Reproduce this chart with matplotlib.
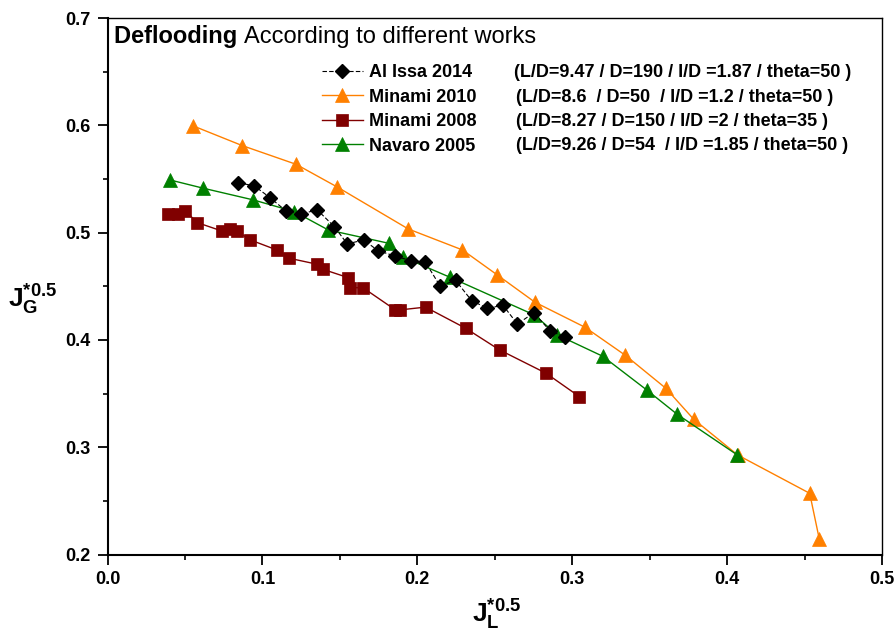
import numpy as np
import matplotlib
matplotlib.use("Agg")
import matplotlib.pyplot as plt

plt.rcParams['font.family'] = ['Liberation Sans', 'DejaVu Sans']
plt.rcParams['mathtext.fontset'] = 'custom'
plt.rcParams['mathtext.bf'] = 'Liberation Sans:bold'
plt.rcParams['mathtext.rm'] = 'Liberation Sans'

# data
alissa_x = [0.0844, 0.0948, 0.1049, 0.1150, 0.1249, 0.1354, 0.1464, 0.1548, 0.1654, 0.1746, 0.1854,
            0.1957, 0.2050, 0.2147, 0.2247, 0.2351, 0.2453, 0.2553, 0.2646, 0.2753, 0.2855, 0.2955]
alissa_y = [0.5466, 0.5435, 0.5326, 0.5205, 0.5174, 0.5212, 0.5056, 0.4895, 0.4932, 0.4832, 0.4783,
            0.4739, 0.4730, 0.4503, 0.4555, 0.4366, 0.4295, 0.4323, 0.4149, 0.4254, 0.4087, 0.4025]

min2010_x = [0.0554, 0.0870, 0.1217, 0.1482, 0.1942, 0.2291, 0.2516, 0.2760, 0.3083, 0.3343,
             0.3604, 0.3784, 0.4068, 0.4533, 0.4595]
min2010_y = [0.5994, 0.5811, 0.5637, 0.5426, 0.5034, 0.4839, 0.4606, 0.4351, 0.4118, 0.3857,
             0.3550, 0.3261, 0.2928, 0.2571, 0.2145]

min2008_x = [0.0393, 0.0457, 0.0500, 0.0580, 0.0737, 0.0791, 0.0836, 0.0922, 0.1092, 0.1174, 0.1352,
             0.1389, 0.1553, 0.1564, 0.1649, 0.1858, 0.1888, 0.2053, 0.2312, 0.2531, 0.2831, 0.3046]
min2008_y = [0.5174, 0.5174, 0.5205, 0.5093, 0.5016, 0.5034, 0.5013, 0.4932, 0.4839, 0.4761, 0.4706,
             0.4659, 0.4581, 0.4487, 0.4487, 0.4280, 0.4280, 0.4306, 0.4109, 0.3907, 0.3690, 0.3472]

navaro_x = [0.0403, 0.0618, 0.0941, 0.1206, 0.1425, 0.1815, 0.1910, 0.2211, 0.2755, 0.2904,
            0.3197, 0.3481, 0.3677, 0.4066]
navaro_y = [0.5491, 0.5414, 0.5305, 0.5196, 0.5025, 0.4901, 0.4771, 0.4584, 0.4233, 0.4047,
            0.3848, 0.3534, 0.3308, 0.2928]

labels = ['Al Issa 2014', 'Minami 2010', 'Minami 2008', 'Navaro 2005']
params = ['(L/D=9.47 / D=190 / I/D =1.87 / theta=50 )',
          '(L/D=8.6  / D=50  / I/D =1.2 / theta=50 )',
          '(L/D=8.27 / D=150 / I/D =2 / theta=35 )',
          '(L/D=9.26 / D=54  / I/D =1.85 / theta=50 )']

fig = plt.figure(figsize=(8.96, 6.32), dpi=100)
ax = fig.add_axes([0.12, 0.1225, 0.8644, 0.849])

ax.plot(min2010_x, min2010_y, '-^', color='#ff8000', lw=1.0, ms=10, mec='#ff8000', mew=0.5, label=labels[1])
ax.plot(navaro_x, navaro_y, '-^', color='#008000', lw=1.0, ms=10, mec='#008000', mew=0.5, label=labels[3])
ax.plot(min2008_x, min2008_y, '-s', color='#800000', lw=1.0, ms=8.5, mec='#800000', mew=0.5, label=labels[2])
ax.plot(alissa_x, alissa_y, 'D', color='black', ls=(0, (4, 2)), lw=0.8, ms=7, label=labels[0])

ax.set_xlim(0, 0.5)
ax.set_ylim(0.2, 0.7)
ax.set_xticks(np.arange(0, 0.51, 0.1))
ax.set_yticks(np.arange(0.2, 0.71, 0.1))
ax.set_xticks(np.arange(0.05, 0.5, 0.1), minor=True)
ax.set_yticks(np.arange(0.25, 0.7, 0.1), minor=True)
ax.xaxis.set_major_formatter(matplotlib.ticker.FormatStrFormatter('%.1f'))
ax.yaxis.set_major_formatter(matplotlib.ticker.FormatStrFormatter('%.1f'))
ax.tick_params(which='major', direction='out', length=7, width=1.3, labelsize=13, pad=5)
ax.tick_params(which='minor', direction='out', length=3.5, width=1.2)
ax.tick_params(top=False, right=False, which='both')
for lab in ax.get_xticklabels() + ax.get_yticklabels():
    lab.set_fontweight('bold')
ax.spines['left'].set_linewidth(1.5)
ax.spines['bottom'].set_linewidth(1.5)
ax.spines['top'].set_linewidth(1.0)
ax.spines['right'].set_linewidth(1.0)

# title inside the axes
t1 = ax.text(0.0084, 0.954, 'Deflooding ', transform=ax.transAxes, fontsize=17,
             fontweight='bold', va='baseline')
ax.annotate('According to different works', xy=(1, 0), xycoords=t1, fontsize=17,
            va='bottom', ha='left')

# legend
h, l = ax.get_legend_handles_labels()
order = [3, 0, 2, 1]
leg = ax.legend([h[i] for i in order], [l[i] for i in order], loc='upper left',
                bbox_to_anchor=(321.7 / 896, 1 - 64 / 632), bbox_transform=fig.transFigure,
                frameon=False, borderaxespad=0, borderpad=0, handlelength=2.3,
                handletextpad=0.33, labelspacing=0.42, prop={'weight': 'bold', 'size': 13})

px = [0.525, 0.528, 0.528, 0.527]
py = [0.8895, 0.8444, 0.7993, 0.7542]
for xx, yy, s in zip(px, py, params):
    ax.text(xx, yy, s, transform=ax.transAxes, fontsize=13, fontweight='bold', va='baseline')

# axis labels
ax.text(-0.097, 0.474, r'$\mathbf{J^{*0.5}_{G}}$', transform=ax.transAxes, fontsize=19,
        ha='center', va='center')
ax.text(0.503, -0.080, r'$\mathbf{J^{*0.5}_{L}}$', transform=ax.transAxes, fontsize=19,
        ha='center', va='top')

fig.savefig('out.png', dpi=100)
